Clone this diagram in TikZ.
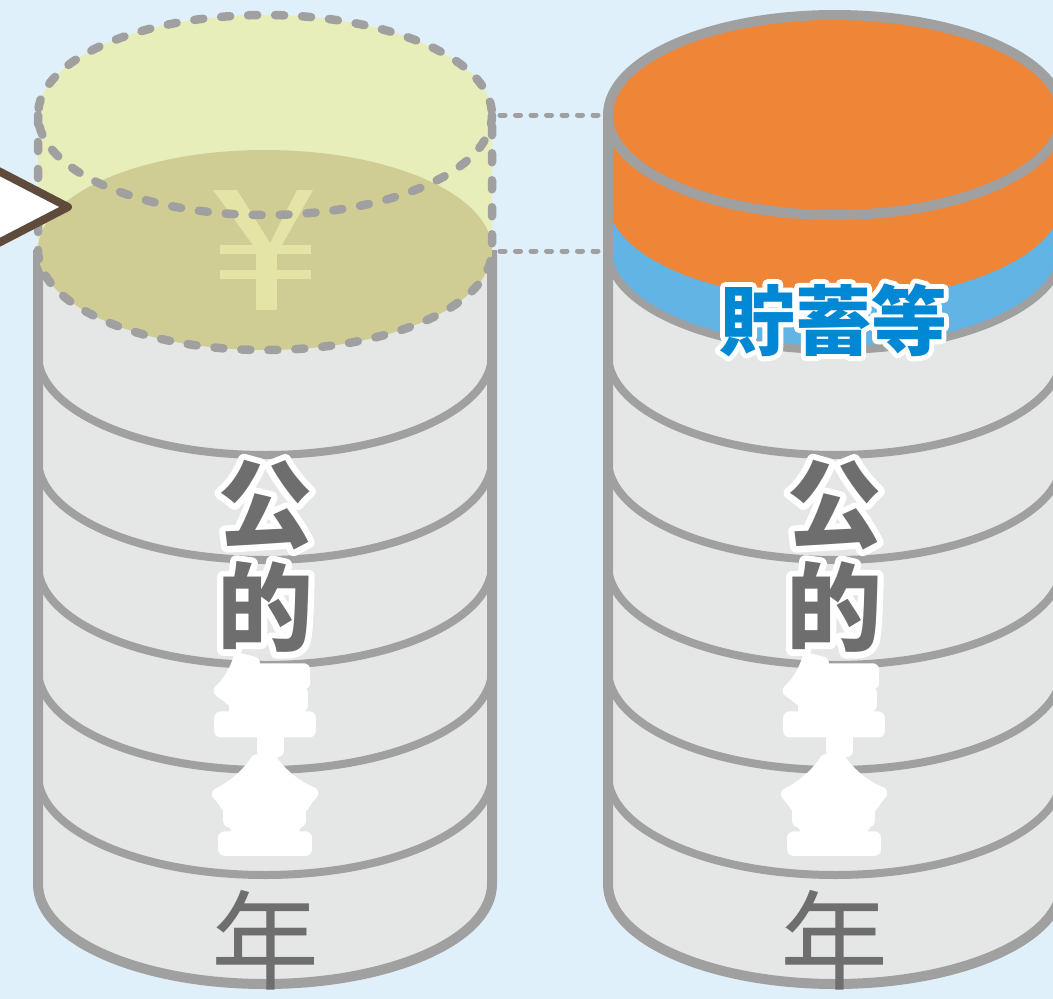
\documentclass[tikz,border=0pt]{standalone}
\usepackage{fontspec}
\newfontfamily\jpfont{Noto Sans CJK JP}

\definecolor{bgblue}{HTML}{E0F0FB}
\definecolor{coinedge}{HTML}{A0A0A0}
\definecolor{coinfill}{HTML}{E5E6E6}
\definecolor{pensionorange}{HTML}{EE8537}
\definecolor{savingsblue}{HTML}{62B4E4}
\definecolor{labelblue}{HTML}{0088D5}
\definecolor{ghostfill}{HTML}{E8EEB9}
\definecolor{ghostcoin}{HTML}{D0CD94}
\definecolor{yenmark}{HTML}{E4E4A6}
\definecolor{textgray}{HTML}{6E6E6E}
\definecolor{arrowbrown}{HTML}{5F4B3C}

% text with a halo: #1 halo stroke (FakeBold), #2 halo colour, #3 text colour, #4 text
\newcommand\halo[4]{%
  \leavevmode\rlap{\color{#2}\addfontfeatures{FakeBold=#1}#4}{\color{#3}#4}%
}
% text drawn only as a swollen blob: #1 stroke, #2 colour, #3 text
\newcommand\blob[3]{%
  {\color{#2}\addfontfeatures{FakeBold=#1}#3}%
}

\begin{document}
\begin{tikzpicture}[x=1pt,y=-1pt,
  coinline/.style={draw=coinedge, line width=10pt, line join=round},
  ringline/.style={draw=coinedge, line width=8pt},
  dashline/.style={draw=coinedge, line width=8.5pt, line cap=round, dash pattern=on 9pt off 18pt},
  guideline/.style={draw=coinedge, line width=5pt, line cap=round, dash pattern=on 5pt off 10.5pt},
  arrowline/.style={draw=arrowbrown, fill=white, line width=8pt, line join=round},
  bigchar/.style={inner sep=0pt, line join=round, font=\jpfont\bfseries\fontsize{96}{96}\selectfont},
  tailchar/.style={inner sep=0pt, font=\jpfont\fontsize{108}{108}\selectfont, text=textgray},
  savelabel/.style={inner sep=0pt, line join=round, font=\jpfont\bfseries\fontsize{76}{76}\selectfont},
  rx/.style={x radius=227, y radius=100}]

\useasboundingbox (0,0) rectangle (1053,999);
\fill[bgblue] (0,0) rectangle (1053,999);
\clip (0,0) rectangle (1053,999);

% ---------- left stack: public pension only ----------
\fill[coinfill] (38,250) -- (38,884) arc[start angle=180,end angle=0,rx] -- (492,250) -- cycle;
\draw[coinline] (38,250) -- (38,884) arc[start angle=180,end angle=0,rx] -- (492,250);
\foreach \cy in {355,460,565,670,775}
  \draw[ringline] (38,\cy) arc[start angle=180,end angle=0,rx];

% missing layer (translucent coin)
\fill[ghostfill] (38,115) -- (38,250) arc[start angle=180,end angle=0,rx]
  -- (492,115) arc[start angle=0,end angle=-180,rx] -- cycle;
\fill[ghostcoin] (265,250) ellipse[rx];

% yen mark
\fill[yenmark] (213,190) -- (237,190) -- (270,243) -- (297,190) -- (313,190)
  -- (278,252) -- (258,252) -- cycle;
\fill[yenmark] (256,248) rectangle (277,310);
\fill[yenmark] (220,245) rectangle (311,254);
\fill[yenmark] (220,270) rectangle (311,279);

\draw[dashline] (265,115) ellipse[rx];
\draw[dashline] (38,115) -- (38,250) arc[start angle=180,end angle=0,rx] -- (492,115);

% ---------- right stack: pension plus savings ----------
\fill[coinfill] (608,250) -- (608,884) arc[start angle=180,end angle=0,rx] -- (1062,250) -- cycle;
\fill[savingsblue] (608,115) -- (608,250) arc[start angle=180,end angle=0,rx] -- (1062,115) -- cycle;
\fill[pensionorange] (608,115) -- (608,200) arc[start angle=180,end angle=0,rx]
  -- (1062,115) arc[start angle=0,end angle=-180,rx] -- cycle;
\foreach \cy in {250,355,460,565,670,775}
  \draw[ringline] (608,\cy) arc[start angle=180,end angle=0,rx];
\draw[coinline] (608,115) -- (608,884) arc[start angle=180,end angle=0,rx] -- (1062,115);
\draw[coinline] (835,115) ellipse[rx];

% guides between the two stacks
\coordinate (ghost-top) at (500,115);
\coordinate (ghost-base) at (500,251);
\coordinate (stack-top) at (601,115);
\coordinate (stack-base) at (601,251);
\draw[guideline] (ghost-top) -- (stack-top);
\draw[guideline] (ghost-base) -- (stack-base);

% pointer from the left
\draw[arrowline] (-100,120) -- (68,207) -- (-100,294);

% ---------- labels ----------
\node[savelabel] (savings) at (833,320) {\halo{13}{white}{labelblue}{貯蓄等}};

\node[bigchar] (l-ko)   at (265,505) {\halo{13}{white}{textgray}{公}};
\node[bigchar] (l-teki) at (265,607) {\halo{13}{white}{textgray}{的}};
\node[bigchar] (l-nen)  at (265,705) {\blob{13}{white}{年}};
\node[bigchar] (l-kin)  at (265,805) {\blob{13}{white}{金}};
\node[tailchar] (l-tail) at (265,940) {年};

\node[bigchar] (r-ko)   at (834,505) {\halo{13}{white}{textgray}{公}};
\node[bigchar] (r-teki) at (834,607) {\halo{13}{white}{textgray}{的}};
\node[bigchar] (r-nen)  at (834,705) {\blob{13}{white}{年}};
\node[bigchar] (r-kin)  at (834,805) {\blob{13}{white}{金}};
\node[tailchar] (r-tail) at (834,940) {年};

\end{tikzpicture}
\end{document}
